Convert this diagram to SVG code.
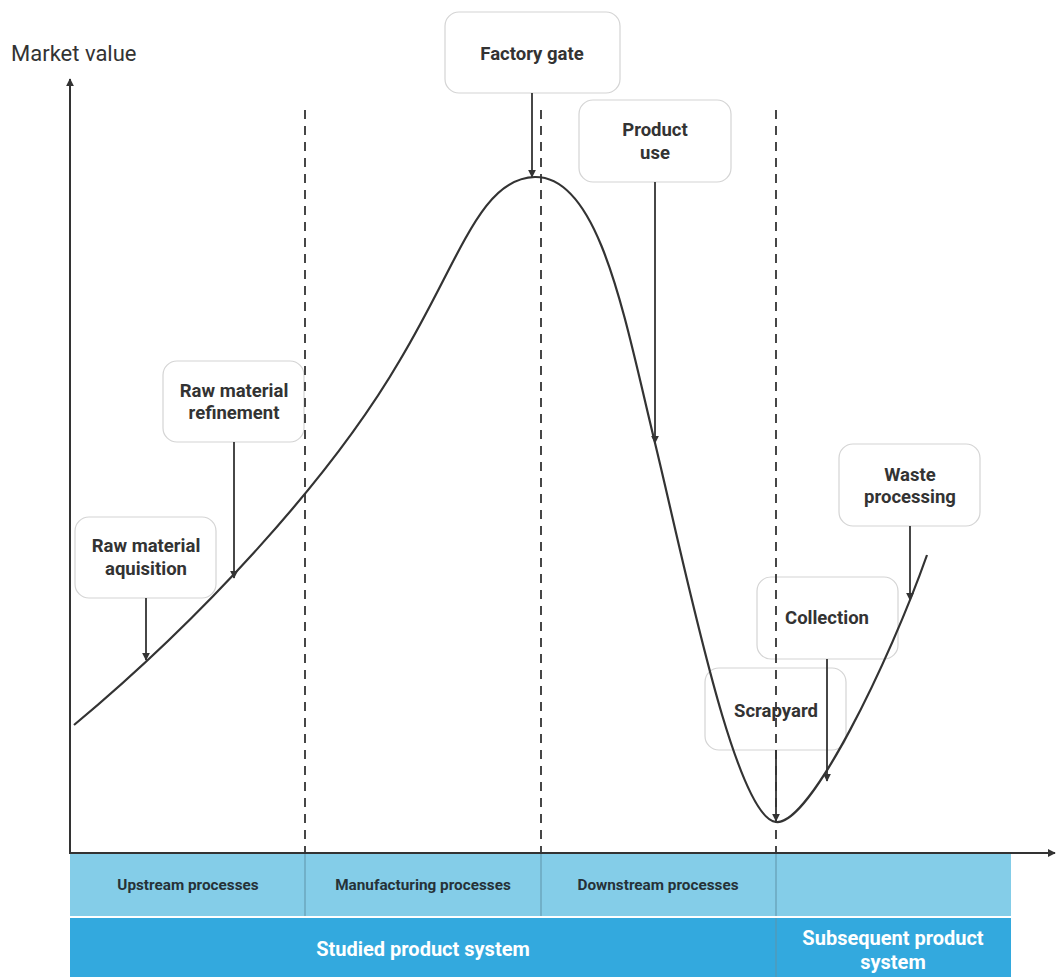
<svg xmlns="http://www.w3.org/2000/svg" width="1056" height="977" viewBox="0 0 1056 977">
  <style>
    .box { fill: #ffffff; stroke: #d4d4d4; stroke-width: 1.2; }
    .lbl { font-family: Roboto, "Liberation Sans", sans-serif; font-weight: bold; font-size: 18.5px; fill: #333333; text-anchor: middle; }
    .axis { stroke: #333333; stroke-width: 2; fill: none; }
    .div { stroke: #333333; stroke-width: 1.8; stroke-dasharray: 9 7; fill: none; }
    .curve { stroke: #333333; stroke-width: 2.2; fill: none; }
    .conn { stroke: #333333; stroke-width: 1.8; fill: none; marker-end: url(#arr); }
    .band1 { fill: #84cde8; }
    .band2 { fill: #33a9de; }
    .sep { stroke: #5f93a8; stroke-width: 1; }
    .t1 { font-family: Roboto, "Liberation Sans", sans-serif; font-weight: bold; font-size: 15.3px; fill: #263238; text-anchor: middle; }
    .t2 { font-family: Roboto, "Liberation Sans", sans-serif; font-weight: bold; font-size: 20px; fill: #ffffff; text-anchor: middle; }
  </style>
  <defs>
    <marker id="arr" viewBox="0 0 10 10" refX="9" refY="5" markerWidth="8" markerHeight="8" markerUnits="userSpaceOnUse" orient="auto">
      <path d="M0,0 L10,5 L0,10 z" fill="#333333"/>
    </marker>
    <marker id="axarr" viewBox="0 0 10 10" refX="9" refY="5" markerWidth="8" markerHeight="8" markerUnits="userSpaceOnUse" orient="auto">
      <path d="M0,0 L10,5 L0,10 z" fill="#333333"/>
    </marker>
  </defs>

  <!-- bottom bands -->
  <g id="bands">
    <rect class="band1" x="70" y="854" width="941" height="62"/>
    <rect class="band2" x="70" y="918" width="941" height="59"/>
    <line class="sep" x1="305" y1="854" x2="305" y2="916"/>
    <line class="sep" x1="541" y1="854" x2="541" y2="916"/>
    <line class="sep" x1="776" y1="854" x2="776" y2="916"/>
    <line class="sep" x1="776" y1="918" x2="776" y2="977"/>
    <text class="t1" x="188" y="890">Upstream processes</text>
    <text class="t1" x="423" y="890">Manufacturing processes</text>
    <text class="t1" x="658" y="890">Downstream processes</text>
    <text class="t2" x="423" y="956">Studied product system</text>
    <text class="t2" x="893" y="945">Subsequent product</text>
    <text class="t2" x="893" y="969">system</text>
  </g>

  <!-- label boxes -->
  <g id="factory-gate">
    <rect class="box" x="445" y="12" width="175" height="81" rx="14"/>
    <text class="lbl" x="532" y="60">Factory gate</text>
  </g>
  <g id="product-use">
    <rect class="box" x="579" y="100" width="152" height="82" rx="14"/>
    <text class="lbl" x="655" y="136">Product</text>
    <text class="lbl" x="655" y="159">use</text>
  </g>
  <g id="raw-material-refinement">
    <rect class="box" x="163" y="361" width="141" height="81" rx="14"/>
    <text class="lbl" x="234" y="397">Raw material</text>
    <text class="lbl" x="234" y="419">refinement</text>
  </g>
  <g id="raw-material-aquisition">
    <rect class="box" x="75" y="517" width="141" height="81" rx="14"/>
    <text class="lbl" x="146" y="552">Raw material</text>
    <text class="lbl" x="146" y="575">aquisition</text>
  </g>
  <g id="waste-processing">
    <rect class="box" x="839" y="444" width="141" height="82" rx="14"/>
    <text class="lbl" x="910" y="481">Waste</text>
    <text class="lbl" x="910" y="503">processing</text>
  </g>
  <g id="collection">
    <rect class="box" x="757" y="577" width="141" height="82" rx="14"/>
    <text class="lbl" x="827" y="624">Collection</text>
  </g>
  <g id="scrapyard">
    <rect class="box" x="705" y="668" width="141" height="82" rx="14"/>
    <text class="lbl" x="776" y="717">Scrapyard</text>
  </g>

  <!-- axes, stage dividers and value curve -->
  <g id="chart">
    <text x="11" y="61" font-family="Roboto, 'Liberation Sans', sans-serif" font-size="22" fill="#333333">Market value</text>
    <line class="div" x1="305" y1="110" x2="305" y2="853"/>
    <line class="div" x1="541" y1="110" x2="541" y2="853"/>
    <line class="div" x1="776" y1="110" x2="776" y2="853"/>
    <path class="axis" d="M70,853 L70,79" marker-end="url(#axarr)"/>
    <path class="axis" d="M69,853 L1055,853" marker-end="url(#axarr)"/>
    <path class="curve" d="M74,725 C200,620 330,480 400,360 C460,260 480,178 535,177 C600,176 625,320 655,443 C685,566 735,818 776,822 C810,826 890,660 927,555"/>
  </g>

  <!-- connectors from labels to curve -->
  <g id="connectors">
    <path class="conn" d="M146,598 L146,660"/>
    <path class="conn" d="M234,442 L234,578"/>
    <path class="conn" d="M532,93 L532,177"/>
    <path class="conn" d="M655,182 L655,443"/>
    <path class="conn" d="M910,526 L910,600"/>
    <path class="conn" d="M827,659 L827,781"/>
    <path class="conn" d="M776,750 L776,821"/>
  </g>
</svg>
